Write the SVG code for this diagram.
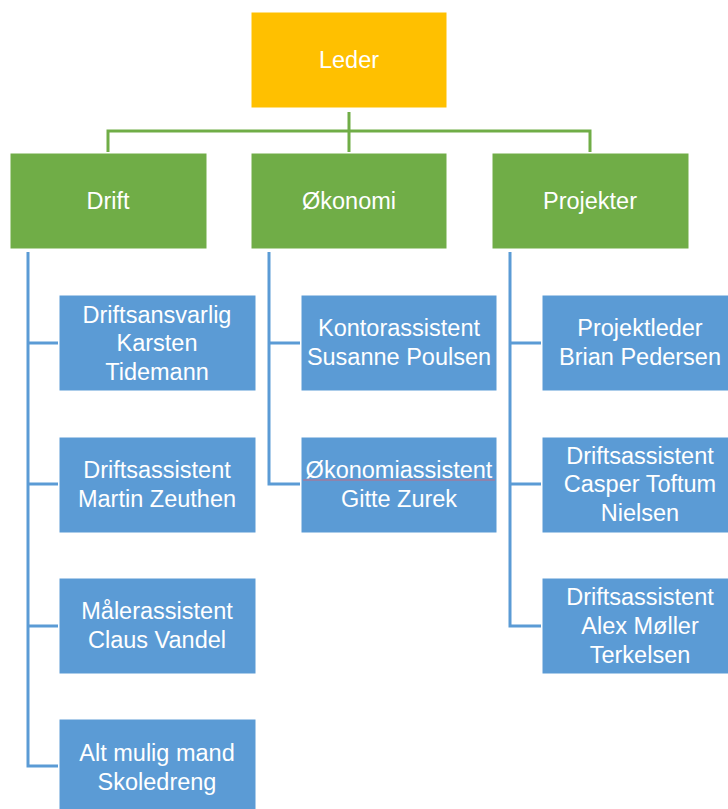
<svg xmlns="http://www.w3.org/2000/svg" width="728" height="809" viewBox="0 0 728 809">
<style>
.lead{fill:#FFC000;stroke:#FFFFFF;stroke-width:1}
.grn{fill:#70AD47;stroke:#FFFFFF;stroke-width:1}
.blu{fill:#5B9BD5;stroke:#FFFFFF;stroke-width:1}
text{font-family:"Liberation Sans","Open Sans",Arial,sans-serif;font-size:23.5px;fill:#FFFFFF;text-anchor:middle;dominant-baseline:central}
.gl{stroke:#70AD47;stroke-width:3;fill:none}
.bl{stroke:#5B9BD5;stroke-width:3;fill:none}
</style>
<rect width="728" height="809" fill="#FFFFFF"/>
<g id="connectors">
<path class="gl" d="M349 112V152M108 152V131H590V152"/>
<path class="bl" d="M28 252V766H58M28 343H58M28 484H58M28 626H58"/>
<path class="bl" d="M269 252V484H300M269 343H300"/>
<path class="bl" d="M510 252V626H541M510 343H541M510 484H541"/>
</g>
<g id="leder"><rect class="lead" x="251" y="12" width="196" height="96"/><text x="349" y="60">Leder</text></g>
<g id="drift"><rect class="grn" x="10" y="153" width="197" height="96"/><text x="108" y="201">Drift</text></g>
<g id="okonomi"><rect class="grn" x="251" y="153" width="196" height="96"/><text x="349" y="201">Økonomi</text></g>
<g id="projekter"><rect class="grn" x="492" y="153" width="197" height="96"/><text x="590" y="201">Projekter</text></g>
<g id="driftsansvarlig"><rect class="blu" x="59" y="295" width="197" height="96"/><text x="157" y="315">Driftsansvarlig</text><text x="157" y="343">Karsten</text><text x="157" y="372">Tidemann</text></g>
<g id="driftsassistent1"><rect class="blu" x="59" y="437" width="197" height="96"/><text x="157" y="470">Driftsassistent</text><text x="157" y="499">Martin Zeuthen</text></g>
<g id="malerassistent"><rect class="blu" x="59" y="578" width="197" height="96"/><text x="157" y="611">Målerassistent</text><text x="157" y="640">Claus Vandel</text></g>
<g id="altmulig"><rect class="blu" x="59" y="719" width="197" height="96"/><text x="157" y="753">Alt mulig mand</text><text x="157" y="782">Skoledreng</text></g>
<g id="kontorassistent"><rect class="blu" x="301" y="295" width="196" height="96"/><text x="399" y="328">Kontorassistent</text><text x="399" y="357">Susanne Poulsen</text></g>
<g id="okonomiassistent"><rect class="blu" x="301" y="437" width="196" height="96"/><text x="399" y="470">Økonomiassistent</text><line x1="303" y1="480" x2="495" y2="480" stroke="#E06070" stroke-width="0.8"/><text x="399" y="499">Gitte Zurek</text></g>
<g id="projektleder"><rect class="blu" x="542" y="295" width="197" height="96"/><text x="640" y="328">Projektleder</text><text x="640" y="357">Brian Pedersen</text></g>
<g id="driftsassistent2"><rect class="blu" x="542" y="437" width="197" height="96"/><text x="640" y="456">Driftsassistent</text><text x="640" y="484">Casper Toftum</text><text x="640" y="513">Nielsen</text></g>
<g id="driftsassistent3"><rect class="blu" x="542" y="578" width="197" height="96"/><text x="640" y="597">Driftsassistent</text><text x="640" y="626">Alex Møller</text><text x="640" y="655">Terkelsen</text></g>
</svg>
